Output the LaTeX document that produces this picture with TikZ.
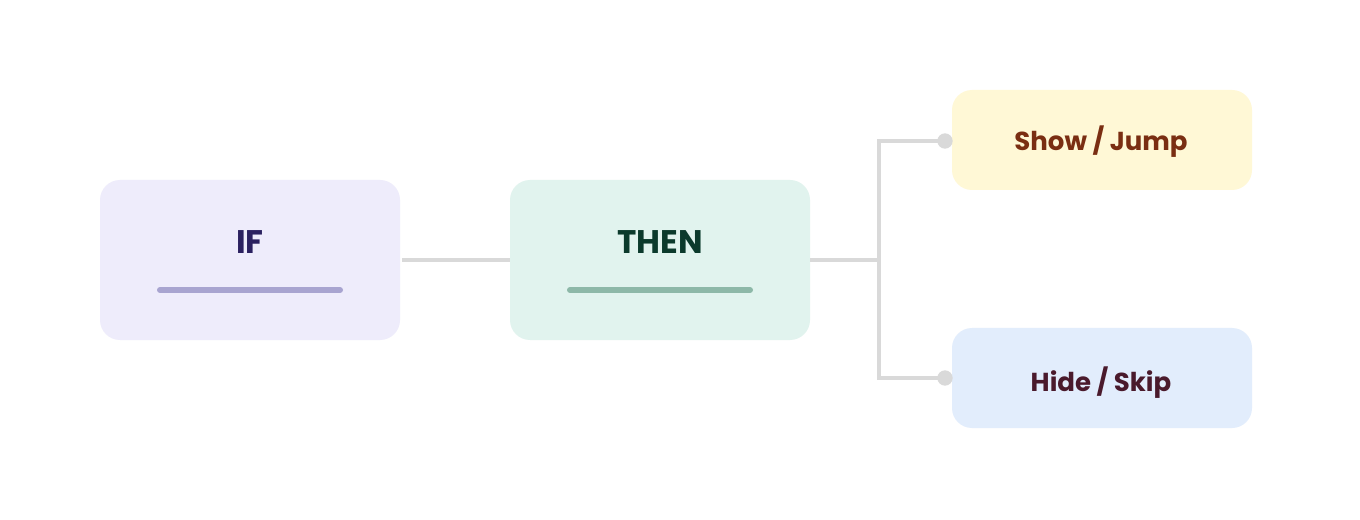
\documentclass[tikz,border=0pt]{standalone}
\usepackage{fontspec}
\setmainfont{Poppins}
\definecolor{ifbg}{HTML}{EEECFB}
\definecolor{iftx}{HTML}{2B2160}
\definecolor{ifln}{HTML}{A8A4D0}
\definecolor{thbg}{HTML}{E1F3EE}
\definecolor{thtx}{HTML}{0B3A2C}
\definecolor{thln}{HTML}{8DB8A8}
\definecolor{shbg}{HTML}{FFF8D6}
\definecolor{shtx}{HTML}{7A2E12}
\definecolor{hdbg}{HTML}{E2EDFC}
\definecolor{hdtx}{HTML}{4A1A2C}
\definecolor{conn}{HTML}{D9D9D9}
\tikzset{
  bigbox/.style={rounded corners=15pt, minimum width=225pt, minimum height=120pt, inner sep=0pt, draw=none},
  smallbox/.style={rounded corners=15pt, minimum width=225pt, minimum height=75pt, inner sep=0pt, draw=none},
  lbl/.style={font=\fontsize{24.5}{28}\selectfont\bfseries, inner sep=0pt},
  slbl/.style={font=\fontsize{19.5}{24}\selectfont\bfseries, inner sep=0pt},
  ul/.style={line width=4.5pt, line cap=round},
  wire/.style={conn, line width=2.4pt},
  dotc/.style={circle, fill=conn, minimum size=11.5pt, inner sep=0pt}
}
\begin{document}
\begin{tikzpicture}[x=0.75pt, y=-0.75pt]
\useasboundingbox[fill=white] (0,0) rectangle (1360,520);
\node[bigbox, fill=ifbg] (ifb) at (250,260) {};
\node[bigbox, fill=thbg] (thb) at (660,260) {};
\node[smallbox, fill=shbg] (shb) at (1102,140) {};
\node[smallbox, fill=hdbg] (hdb) at (1102,378) {};
\node[lbl, text=iftx, anchor=base] (ift) at (250,254) {IF};
\node[lbl, text=thtx, anchor=base] (tht) at (660,254) {THEN};
\node[slbl, text=shtx, anchor=base] (sht) at (1101,151) {Show / Jump};
\node[slbl, text=hdtx, anchor=base] (hdt) at (1101,391) {Hide / Skip};
\coordinate (ifl1) at (160,290); \coordinate (ifl2) at (340,290);
\coordinate (thl1) at (570,290); \coordinate (thl2) at (750,290);
\draw[ul, ifln] (ifl1) -- (ifl2);
\draw[ul, thln] (thl1) -- (thl2);
\coordinate (br) at (879,260);
\node[dotc] (d1) at (945,141) {};
\node[dotc] (d2) at (945,378) {};
\draw[wire] ([xshift=1.5pt]ifb.east) -- (thb.west);
\draw[wire] (thb.east) -- (br);
\draw[wire] (d1.center) -| (br) |- (d2.center);
\end{tikzpicture}
\end{document}
